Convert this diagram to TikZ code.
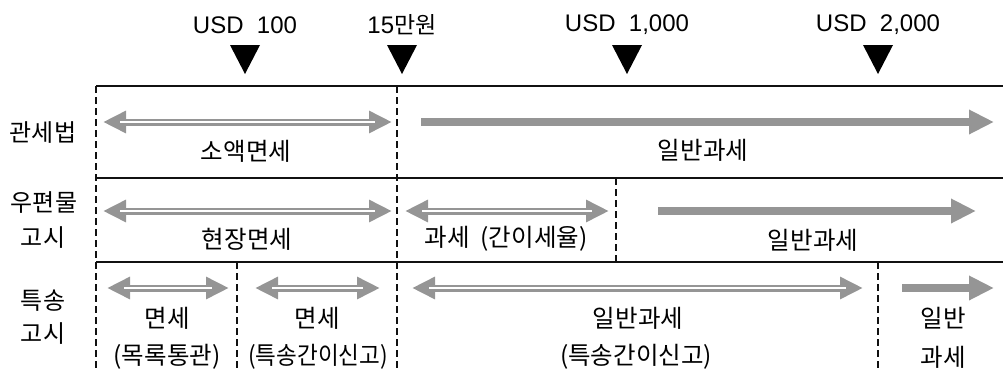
\documentclass[tikz,border=0pt]{standalone}
\usepackage{graphicx}
\usepackage{fontspec}
\setmainfont{Liberation Sans}
\newfontfamily\kr{Noto Sans CJK KR}
\usetikzlibrary{arrows.meta}
\definecolor{ag}{HTML}{959595}
\definecolor{ln}{HTML}{111111}
\begin{document}
\begin{tikzpicture}[x=1pt,y=-1pt,
  dbl/.style={ag, line width=7pt, {Triangle[length=23pt,width=21pt]}-{Triangle[length=23pt,width=21pt]}},
  inner/.style={white, line width=2pt, shorten <=17pt, shorten >=17pt},
  sol/.style={ag, line width=8pt, -{Triangle[length=25pt,width=23pt]}},
  sep/.style={ln, line width=1.2pt},
  dsh/.style={ln, line width=1.3pt, dash pattern=on 7pt off 4pt},
  lab/.style={font=\kr\fontsize{24.5}{28}\selectfont, inner sep=0pt},
  rowlab/.style={font=\kr\fontsize{24}{28}\selectfont, inner sep=0pt},
  toplab/.style={font=\fontsize{24}{28}\selectfont, inner sep=0pt},
  tri/.style={fill=black}
]
\useasboundingbox (0,0) rectangle (1003,370);

% top labels
\node[toplab] (t1) at (245,25) {USD\ \ 100};
\node[toplab] (t2) at (402,25) {15{\kr\fontsize{23}{27}\selectfont 만원}};
\node[toplab] (t3) at (627,25) {USD\ \ 1,000};
\node[toplab] (t4) at (878,25) {USD\ \ 2,000};

% triangles
\foreach \x in {245,402,627,878}{
  \fill[tri] (\x-15,45) -- (\x+15,45) -- (\x,74) -- cycle;
}

% separators
\coordinate (s1a) at (96,86);  \coordinate (s1b) at (1003,86);
\coordinate (s2a) at (96,178); \coordinate (s2b) at (1003,178);
\coordinate (s3a) at (96,262); \coordinate (s3b) at (1003,262);
\draw[sep] (s1a) -- (s1b);
\draw[sep] (s2a) -- (s2b);
\draw[sep] (s3a) -- (s3b);

% dashed verticals
\coordinate (d1a) at (96,86);   \coordinate (d1b) at (96,370);
\coordinate (d2a) at (397,86);  \coordinate (d2b) at (397,370);
\coordinate (d3a) at (616,178); \coordinate (d3b) at (616,262);
\coordinate (d4a) at (237,262); \coordinate (d4b) at (237,370);
\coordinate (d5a) at (878,262); \coordinate (d5b) at (878,370);
\draw[dsh] (d1a) -- (d1b);
\draw[dsh] (d2a) -- (d2b);
\draw[dsh] (d3a) -- (d3b);
\draw[dsh] (d4a) -- (d4b);
\draw[dsh] (d5a) -- (d5b);

% row labels
\node[rowlab] (r1) at (43,133) {관세법};
\node[rowlab] (r2a) at (44,203) {우편물};
\node[rowlab] (r2b) at (43,238) {고시};
\node[rowlab] (r3a) at (43,301) {특송};
\node[rowlab] (r3b) at (43,334) {고시};

% row 1
\coordinate (a1s) at (103,122); \coordinate (a1e) at (392,122);
\draw[dbl] (a1s) -- (a1e);
\draw[inner] (a1s) -- (a1e);
\coordinate (b1s) at (421,122); \coordinate (b1e) at (994,122);
\draw[sol] (b1s) -- (b1e);
\node[lab] (l11) at (246,151) {소액면세};
\node[lab] (l12) at (703,150) {일반과세};

% row 2
\coordinate (a2s) at (103,211); \coordinate (a2e) at (392,211);
\draw[dbl] (a2s) -- (a2e);
\draw[inner] (a2s) -- (a2e);
\coordinate (c2s) at (405,211); \coordinate (c2e) at (609,211);
\draw[dbl] (c2s) -- (c2e);
\draw[inner] (c2s) -- (c2e);
\coordinate (b2s) at (658,211); \coordinate (b2e) at (976,211);
\draw[sol] (b2s) -- (b2e);
\node[lab] (l21) at (247,239) {현장면세};
\node[lab] (l22) at (506,239) {과세\ \ (간이세율)};
\node[lab] (l23) at (813,240) {일반과세};

% row 3
\coordinate (a3s) at (107,288); \coordinate (a3e) at (229,288);
\draw[dbl] (a3s) -- (a3e);
\draw[inner] (a3s) -- (a3e);
\coordinate (c3s) at (255,288); \coordinate (c3e) at (380,288);
\draw[dbl] (c3s) -- (c3e);
\draw[inner] (c3s) -- (c3e);
\coordinate (e3s) at (412,288); \coordinate (e3e) at (863,288);
\draw[dbl] (e3s) -- (e3e);
\draw[inner] (e3s) -- (e3e);
\coordinate (b3s) at (902,288); \coordinate (b3e) at (994,288);
\draw[sol] (b3s) -- (b3e);
\node[lab] (l31a) at (167,318) {면세};
\node[lab] (l31b) at (167,357) {(목록통관)};
\node[lab] (l32a) at (317,318) {면세};
\node[lab] (l32b) at (318,357) {\scalebox{0.92}[1]{(특송간이신고)}};
\node[lab] (l33a) at (638,318) {일반과세};
\node[lab] (l33b) at (636,357) {(특송간이신고)};
\node[lab] (l34a) at (943,318) {일반};
\node[lab] (l34b) at (943,357) {과세};
\end{tikzpicture}
\end{document}
